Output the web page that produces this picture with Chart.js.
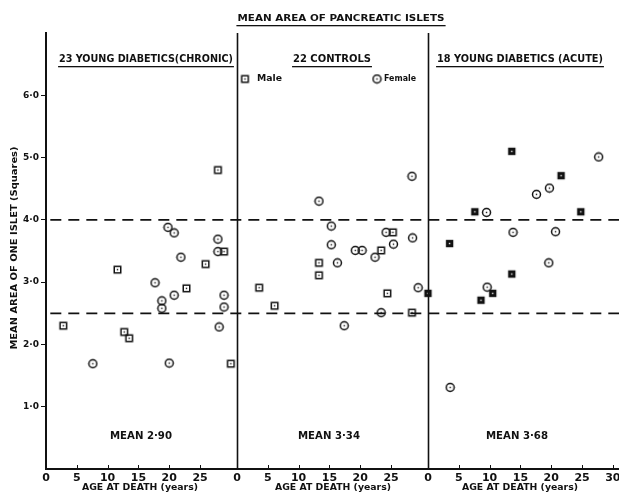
<!DOCTYPE html>
<html>
<head>
<meta charset="utf-8">
<script src="https://cdn.jsdelivr.net/npm/chart.js@4/dist/chart.umd.min.js"></script>
<style>
  html, body { margin: 0; padding: 0; background: #fff; }
  canvas { display: block; }
</style>
</head>
<body>
<canvas id="islets" width="619" height="495"></canvas>
<script>
// Werte (Alter in Jahren, Fläche in "Squares")
const chronicMaleAge    = [27.9, 28.9, 25.9, 11.6, 22.8, 2.8, 12.7, 13.5, 30.0];
const chronicMaleArea   = [4.80, 3.49, 3.29, 3.20, 2.90, 2.30, 2.20, 2.10, 1.69];
const chronicFemaleAge  = [19.8, 20.8, 27.9, 27.9, 21.9, 17.7, 20.8, 28.9, 18.8, 18.8, 28.9, 28.1, 7.6, 20.0];
const chronicFemaleArea = [3.88, 3.79, 3.69, 3.49, 3.40, 2.99, 2.79, 2.79, 2.70, 2.58, 2.60, 2.28, 1.69, 1.70];

const controlMaleAge    = [25.3, 23.4, 13.3, 13.3, 3.6, 24.4, 6.1, 28.4];
const controlMaleArea   = [3.80, 3.51, 3.31, 3.11, 2.91, 2.82, 2.62, 2.51];
const controlFemaleAge  = [28.4, 13.3, 15.3, 24.2, 28.5, 15.3, 25.4, 19.2, 20.3, 22.4, 16.3, 29.4, 23.4, 17.4];
const controlFemaleArea = [4.70, 4.30, 3.90, 3.80, 3.71, 3.60, 3.61, 3.51, 3.51, 3.40, 3.31, 2.91, 2.51, 2.30];

const acuteMaleAge      = [13.6, 21.6, 7.6, 24.8, 3.5, 13.6, 10.5, 8.6, 0.0];
const acuteMaleArea     = [5.10, 4.71, 4.13, 4.13, 3.62, 3.13, 2.82, 2.71, 2.82];
const acuteFemaleAge    = [27.7, 19.7, 17.6, 9.5, 13.8, 20.7, 19.6, 9.6, 3.6];
const acuteFemaleArea   = [5.01, 4.51, 4.41, 4.12, 3.80, 3.81, 3.31, 2.92, 1.31];

const limitLines  = [2.5, 4.0];
const ageTicks    = [0, 5, 10, 15, 20, 25];
const panelTitles = ['23 YOUNG DIABETICS(CHRONIC)', '22 CONTROLS', '18 YOUNG DIABETICS (ACUTE)'];
const meanLabels  = ['MEAN 2·90', 'MEAN 3·34', 'MEAN 3·68'];

const PANEL_YEARS = 31; // Breite eines Feldes auf der Altersachse
const FONT = '"DejaVu Sans", sans-serif';
const INK = '#111';

// Marker als kleine Canvas-Bilder (Quadrat / Kreis mit Punkt)
function makeMarker(kind) {
    const c = document.createElement('canvas');
    c.width = c.height = 11;
    const g = c.getContext('2d');
    g.strokeStyle = g.fillStyle = INK;
    g.lineWidth = 1.5;
    if (kind === 'circle') {
        g.beginPath();
        g.arc(5.5, 5.5, 4.0, 0, 2 * Math.PI);
        g.stroke();
        g.fillRect(4.8, 4.8, 1.4, 1.4);
    } else if (kind === 'square') {
        g.strokeRect(2.25, 2.25, 6.5, 6.5);
        g.fillRect(4.8, 4.8, 1.4, 1.4);
    } else {
        g.fillRect(1.8, 1.8, 7.4, 7.4);
        g.fillStyle = '#fff';
        g.fillRect(4.8, 4.8, 1.4, 1.4);
    }
    return c;
}
const squareMark = makeMarker('square');
const solidMark = makeMarker('solid');
const circleMark = makeMarker('circle');

function toPoints(ages, areas, panel) {
    return ages.map((a, i) => ({ x: a + panel * PANEL_YEARS, y: areas[i] }));
}

function scatterSet(label, data, marker) {
    return { label: label, data: data, pointStyle: marker, pointRadius: 5, order: 0 };
}

// Text auf Zielbreite gestreckt zeichnen
function drawText(ctx, text, x, y, width, size, opts) {
    opts = opts || {};
    ctx.save();
    ctx.font = 'bold ' + size + 'px ' + FONT;
    const w = ctx.measureText(text).width;
    ctx.translate(x, y);
    if (opts.rotate) ctx.rotate(-Math.PI / 2);
    ctx.scale(width / w, 1);
    ctx.fillStyle = INK;
    ctx.textBaseline = 'middle';
    ctx.textAlign = opts.left ? 'left' : 'center';
    ctx.fillText(text, 0, 0);
    if (opts.underline) {
        const x0 = opts.left ? 0 : -w / 2;
        ctx.fillRect(x0 - 1, opts.underline, w + 2, 1.3);
    }
    ctx.restore();
}

const decor = {
    id: 'decor',
    afterDraw(chart) {
        const ctx = chart.ctx, a = chart.chartArea, xs = chart.scales.x;
        ctx.save();
        ctx.strokeStyle = INK;
        ctx.lineWidth = 1.6;
        // Trennlinien zwischen den Feldern
        for (let p = 1; p < 3; p++) {
            const px = Math.round(xs.getPixelForValue(p * PANEL_YEARS)) + 0.5;
            ctx.beginPath();
            ctx.moveTo(px, a.top);
            ctx.lineTo(px, a.bottom);
            ctx.stroke();
        }
        // kleine Striche nach innen auf der Altersachse
        ctx.lineWidth = 1;
        xs.ticks.forEach(t => {
            const px = Math.round(xs.getPixelForValue(t.value)) + 0.5;
            ctx.beginPath();
            ctx.moveTo(px, a.bottom);
            ctx.lineTo(px, a.bottom - 4);
            ctx.stroke();
        });
        ctx.restore();

        drawText(ctx, 'MEAN AREA OF PANCREATIC ISLETS', 341, 19, 207, 9.5, { underline: 6 });
        const titlePos = [[146, 174], [332, 78], [520, 166]];
        panelTitles.forEach((t, i) => drawText(ctx, t, titlePos[i][0], 59, titlePos[i][1], 10.5, { underline: 7 }));
        const meanX = [141, 329, 517];
        meanLabels.forEach((t, i) => drawText(ctx, t, meanX[i], 436, 62, 10));
        const ageX = [140, 333, 520];
        ageX.forEach(cx => drawText(ctx, 'AGE AT DEATH (years)', cx, 488, 116, 9));
        drawText(ctx, 'MEAN AREA OF ONE ISLET (Squares)', 15, 248, 203, 9, { rotate: true });

        // Legende im mittleren Feld
        ctx.drawImage(squareMark, 245 - 5.5, 79 - 5.5);
        drawText(ctx, 'Male', 257, 79, 25, 9.5, { left: true });
        ctx.drawImage(circleMark, 377 - 5.5, 79 - 5.5);
        drawText(ctx, 'Female', 384, 79, 32, 9.5, { left: true });
    }
};

const datasets = [
    scatterSet('Chronic male', toPoints(chronicMaleAge, chronicMaleArea, 0), squareMark),
    scatterSet('Chronic female', toPoints(chronicFemaleAge, chronicFemaleArea, 0), circleMark),
    scatterSet('Control male', toPoints(controlMaleAge, controlMaleArea, 1), squareMark),
    scatterSet('Control female', toPoints(controlFemaleAge, controlFemaleArea, 1), circleMark),
    scatterSet('Acute male', toPoints(acuteMaleAge, acuteMaleArea, 2), solidMark),
    scatterSet('Acute female', toPoints(acuteFemaleAge, acuteFemaleArea, 2), circleMark)
];
limitLines.forEach(v => {
    datasets.push({
        label: 'limit ' + v,
        data: [{ x: 0.7, y: v }, { x: 3 * PANEL_YEARS, y: v }],
        showLine: true,
        borderColor: INK,
        borderWidth: 1.7,
        borderDash: [11, 7],
        pointRadius: 0,
        order: 10
    });
});

new Chart(document.getElementById('islets'), {
    type: 'scatter',
    data: { datasets: datasets },
    options: {
        responsive: false,
        animation: false,
        events: [],
        layout: { autoPadding: false, padding: { top: 33, right: 0, left: 0, bottom: 0 } },
        plugins: { legend: { display: false }, tooltip: { enabled: false } },
        scales: {
            x: {
                type: 'linear',
                min: 0,
                max: 3 * PANEL_YEARS,
                afterBuildTicks: function(scale) {
                    const t = [];
                    for (let p = 0; p < 3; p++) {
                        ageTicks.forEach(a => t.push({ value: p * PANEL_YEARS + a }));
                    }
                    t.push({ value: 2 * PANEL_YEARS + 30 });
                    scale.ticks = t;
                },
                afterFit: function(scale) {
                    scale.height = 26;
                    // letzte Beschriftung darf am Rand abgeschnitten werden
                    scale.paddingLeft = 0;
                    scale.paddingRight = 0;
                },
                grid: { drawOnChartArea: false, drawTicks: false },
                border: { color: INK, width: 2 },
                ticks: {
                    autoSkip: false,
                    maxRotation: 0,
                    padding: 3,
                    color: INK,
                    font: { family: FONT, size: 11, weight: 'bold' },
                    callback: function(value) {
                        return String(Math.round(value - Math.floor((value + 0.01) / PANEL_YEARS) * PANEL_YEARS));
                    }
                }
            },
            y: {
                min: 0,
                max: 7,
                afterFit: function(scale) { scale.width = 46; },
                grid: { drawOnChartArea: false, tickLength: 5, color: INK, lineWidth: 1 },
                border: { color: INK, width: 2 },
                ticks: {
                    stepSize: 1,
                    padding: 2,
                    color: INK,
                    font: { family: FONT, size: 9, weight: 'bold' },
                    callback: function(value) {
                        if (value === 0 || value === 7) return null;
                        return value.toFixed(1).replace('.', '·');
                    }
                }
            }
        }
    },
    plugins: [decor]
});
</script>
</body>
</html>
